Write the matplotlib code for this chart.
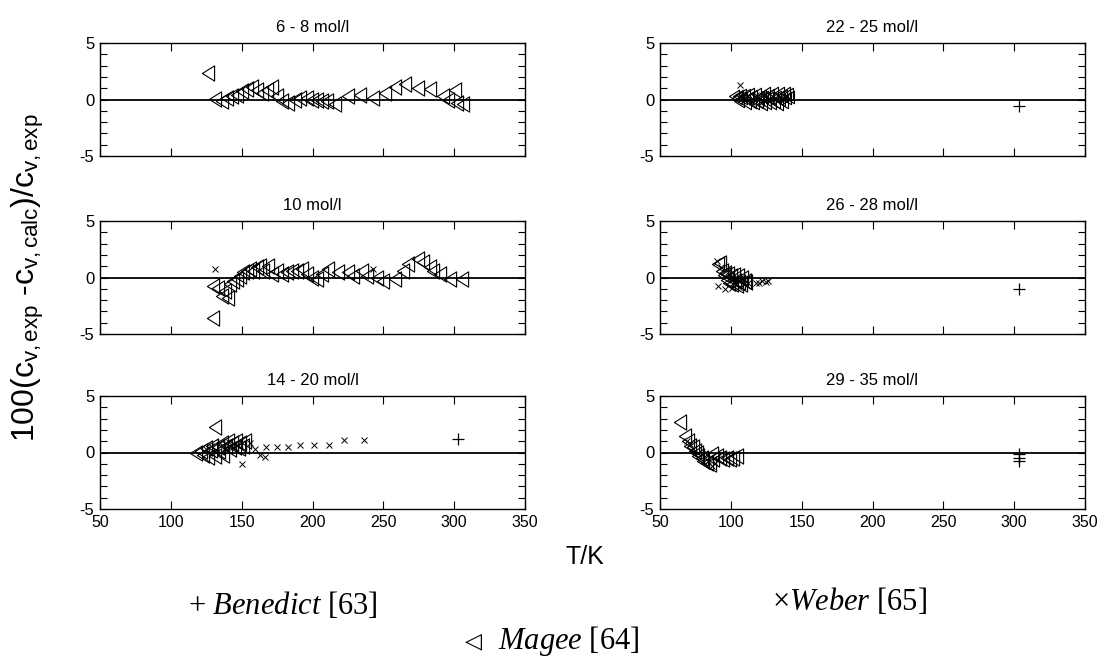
import matplotlib
matplotlib.use("Agg")
import matplotlib.pyplot as plt
from matplotlib.path import Path

# ---------------- data ----------------
xticks = [50, 100, 150, 200, 250, 300, 350]
titles = ["6 - 8 mol/l", "22 - 25 mol/l", "10 mol/l", "26 - 28 mol/l", "14 - 20 mol/l", "29 - 35 mol/l"]

# Panel 6-8 mol/l
a_mag_T = [126.5, 131.2, 135.9, 139.4, 143.0, 146.5, 150.0, 153.5, 157.1, 160.6, 164.1, 167.7, 171.2, 174.7,
           178.2, 183.0, 187.7, 191.2, 195.9, 199.4, 202.9, 206.5, 210.0, 215.9, 225.3, 233.5, 243.0, 251.2,
           258.2, 265.3, 274.7, 283.0, 292.4, 295.9, 300.6, 301.8, 306.5]
a_mag_v = [2.36, 0.06, -0.15, 0.15, 0.30, 0.44, 0.74, 0.94, 1.12, 0.88, 0.59, 0.88, 1.12, 0.30,
           -0.15, -0.30, 0.0, 0.15, 0.15, 0.0, -0.06, -0.15, -0.15, -0.44, 0.30, 0.44, 0.15, 0.59,
           1.12, 1.33, 1.03, 0.94, 0.30, 0.0, 0.88, -0.30, -0.44]

# Panel 22-25 mol/l
d_mag_T = [102, 104, 105, 106, 107, 108, 110, 111, 112, 113, 114, 115, 116, 118, 119, 120, 121, 122, 123,
           124, 125, 126, 127, 128, 130, 131, 132, 133, 134, 135, 136, 137, 138, 139, 140, 141]
d_mag_v = [0.3, 0.1, 0.35, -0.1, 0.4, 0.15, 0.4, -0.3, 0.1, 0.5, -0.2, 0.3, -0.35, 0.5, -0.25, 0.1, 0.35, -0.4,
           0.2, 0.55, -0.3, 0.15, 0.4, -0.35, 0.55, -0.2, 0.2, -0.4, 0.55, 0.0, 0.35, -0.25, 0.6, 0.15, 0.45, 0.2]
d_web_T = [106.5, 108, 112, 115, 118, 121, 124, 127, 130, 133, 136, 139]
d_web_v = [1.3, 0.1, 0.3, -0.2, 0.4, -0.3, 0.5, 0.0, -0.2, 0.4, -0.1, 0.2]
d_ben_T = [303.7]
d_ben_v = [-0.59]

# Panel 10 mol/l
b_mag_T = [130, 130, 133.5, 135.9, 138.2, 140.6, 141.8, 144.1, 146.5, 148.8, 151.2, 153.5, 155.9, 158.2,
           160.6, 163.0, 165.3, 168.8, 171.2, 174.7, 178.2, 181.8, 185.3, 188.8, 192.4, 195.9, 199.4, 202.9,
           206.5, 211.2, 218.2, 225.3, 228.8, 234.7, 238.2, 245.3, 250.0, 258.2, 264.1, 267.7, 274.7, 278.2,
           283.0, 285.3, 290.0, 297.1, 305.3]
b_mag_v = [-3.56, -0.74, -0.89, -1.63, -1.19, -1.78, -0.59, -0.30, -0.15, 0.15, 0.45, 0.59, 0.74, 0.59,
           0.89, 1.04, 0.59, 1.04, 0.30, 0.59, 0.30, 0.45, 0.59, 0.59, 0.74, 0.30, 0.0, -0.15,
           0.30, 0.74, 0.45, 0.45, 0.15, 0.59, 0.15, 0.0, -0.30, -0.15, 0.59, 1.19, 1.63, 1.34,
           0.89, 0.59, 0.30, -0.15, -0.15]
b_web_T = [131.2, 242.5]
b_web_v = [0.74, 0.74]

# Panel 26-28 mol/l
e_mag_T = [91, 92.4, 94, 95, 96, 97, 98, 99, 100, 101, 102, 103, 104, 105, 106, 107, 108, 110, 111]
e_mag_v = [1.2, 1.3, 0.6, 0.2, 0.4, -0.2, 0.3, -0.5, 0.1, -0.6, 0.2, -0.3, -0.7, 0.1, -0.4, -0.6, 0.0, -0.3, -0.4]
e_web_T = [90, 91.2, 93, 95.9, 98, 100.6, 103, 106, 109, 112, 118, 120, 122, 124.5, 126.5]
e_web_v = [1.49, -0.74, 0.9, -1.04, 0.5, -0.89, -0.2, -0.8, -0.6, -0.5, -0.45, -0.5, -0.35, -0.4, -0.3]
e_ben_T = [303.7]
e_ben_v = [-1.04]

# Panel 14-20 mol/l
c_mag_T = [118, 121, 123, 125, 126, 128, 129, 131, 131.2, 133, 134, 136, 137, 139, 140, 142, 143, 145,
           146, 148, 149, 151, 152]
c_mag_v = [0.0, 0.15, -0.2, 0.4, -0.4, 0.2, 0.6, -0.3, 2.29, 0.5, 0.1, 0.8, -0.2, 0.6, 1.0, 0.3, 0.8, 0.5,
           1.0, 0.4, 0.8, 0.6, 1.0]
c_web_T = [125, 128, 132, 135, 138, 141, 144, 147, 150.0, 155.9, 159.4, 163.0, 166.5, 167.0, 174.7, 183.0,
           191.2, 201.1, 211.9, 222.5, 236.4]
c_web_v = [0.3, 0.6, 0.2, 0.8, 0.4, 0.9, 0.5, 0.7, -0.98, 0.80, 0.30, -0.21, -0.39, 0.50, 0.50, 0.50,
           0.65, 0.65, 0.65, 1.10, 1.10]
c_ben_T = [302.5]
c_ben_v = [1.19]

# Panel 29-35 mol/l
f_mag_T = [64.1, 67.7, 70.0, 71.2, 73.5, 74.7, 75.9, 77.1, 79.4, 80.6, 83.0, 85.3, 86.5, 87.7, 90.0, 92.4,
           94.7, 97.0, 99.4, 101.7, 104.1]
f_mag_v = [2.67, 1.48, 1.04, 0.59, 0.45, 0.15, 0.0, -0.30, -0.45, -0.74, -0.89, -1.04, -0.15, -0.59, -0.30,
           -0.45, -0.59, -0.45, -0.59, -0.45, -0.30]
f_web_T = [68.8, 71.2, 73.5, 77.1, 79.4, 81.8, 84.1, 86.5, 88.8]
f_web_v = [1.04, 0.74, 0.30, 0.0, -0.15, -0.45, -0.74, -1.19, -0.89]
f_ben_T = [303.7, 303.7, 303.7]
f_ben_v = [-0.1, -0.45, -0.75]

panels = [
    (a_mag_T, a_mag_v, [], [], [], []),
    (d_mag_T, d_mag_v, d_web_T, d_web_v, d_ben_T, d_ben_v),
    (b_mag_T, b_mag_v, b_web_T, b_web_v, [], []),
    (e_mag_T, e_mag_v, e_web_T, e_web_v, e_ben_T, e_ben_v),
    (c_mag_T, c_mag_v, c_web_T, c_web_v, c_ben_T, c_ben_v),
    (f_mag_T, f_mag_v, f_web_T, f_web_v, f_ben_T, f_ben_v),
]

# ---------------- style ----------------
plt.rcParams['mathtext.fontset'] = 'custom'
plt.rcParams['mathtext.rm'] = 'Liberation Serif'
plt.rcParams['mathtext.it'] = 'Liberation Serif:italic'
plt.rcParams['mathtext.sf'] = 'Liberation Sans'
narrow = ['Liberation Sans', 'DejaVu Sans']

tri = Path([(-0.8, 0), (0.8, 1), (0.8, -1), (-0.8, 0)],
           [Path.MOVETO, Path.LINETO, Path.LINETO, Path.CLOSEPOLY])

W, H = 1107, 658
fig = plt.figure(figsize=(W / 100, H / 100), dpi=100)

col_x = [100, 660]
row_top = [43, 221, 396]
ax_w, ax_h = 425, 113

for i, (mT, mv, wT, wv, bT, bv) in enumerate(panels):
    r, c = divmod(i, 2)
    ax = fig.add_axes([col_x[c] / W, 1 - (row_top[r] + ax_h) / H, ax_w / W, ax_h / H])
    ax.axhline(0, color='k', lw=1.3, zorder=1)
    ms_tri = 9 if i == 1 else 11
    ax.plot(mT, mv, linestyle='none', marker=tri, ms=ms_tri, mfc='none', mec='k', mew=0.8, zorder=3)
    if wT:
        ax.plot(wT, wv, linestyle='none', marker='x', ms=5, mec='k', mew=0.7, zorder=3)
    if bT:
        ax.plot(bT, bv, linestyle='none', marker='+', ms=9, mec='k', mew=0.9, zorder=3)
    ax.set_xlim(50, 350)
    ax.set_ylim(-5, 5)
    ax.set_xticks(xticks)
    ax.set_yticks(range(-5, 6))
    ax.set_yticklabels(['-5' if t == -5 else '0' if t == 0 else '5' if t == 5 else '' for t in range(-5, 6)],
                       family=narrow, fontsize=12)
    if r == 2:
        ax.set_xticklabels([str(t) for t in xticks], family=narrow, fontsize=11.5)
    else:
        ax.set_xticklabels([])
    ax.tick_params(direction='in', top=True, right=True, length=5, width=0.8, pad=4)
    ax.tick_params(axis='x', length=6)
    for s in ax.spines.values():
        s.set_linewidth(1.0)
    ax.set_title(titles[i], family=narrow, fontsize=12, pad=8)

fig.text(28 / W, 1 - 278 / H,
         r"100(c$_{\mathsf{v,exp}}$ -c$_{\mathsf{v,calc}}$)/c$_{\mathsf{v,exp}}$",
         rotation=90, ha='center', va='center', family='Liberation Sans', fontsize=23)
fig.text(585 / W, 1 - 557 / H, "T/K", ha='center', va='center', family='Liberation Sans', fontsize=18)

fig.text(188 / W, 1 - 605 / H, r"+ $\mathit{Benedict}$ [63]", ha='left', va='center',
         family='Liberation Serif', fontsize=22)
fig.text(772 / W, 1 - 601 / H, r"×$\mathit{Weber}$ [65]", ha='left', va='center',
         family='Liberation Serif', fontsize=22)
fig.text(474 / W, 1 - 641 / H, "◁", ha='center', va='center', family='DejaVu Sans', fontsize=16)
fig.text(498 / W, 1 - 641 / H, r"$\mathit{Magee}$ [64]", ha='left', va='center',
         family='Liberation Serif', fontsize=22)

fig.savefig("out.png", dpi=100)
